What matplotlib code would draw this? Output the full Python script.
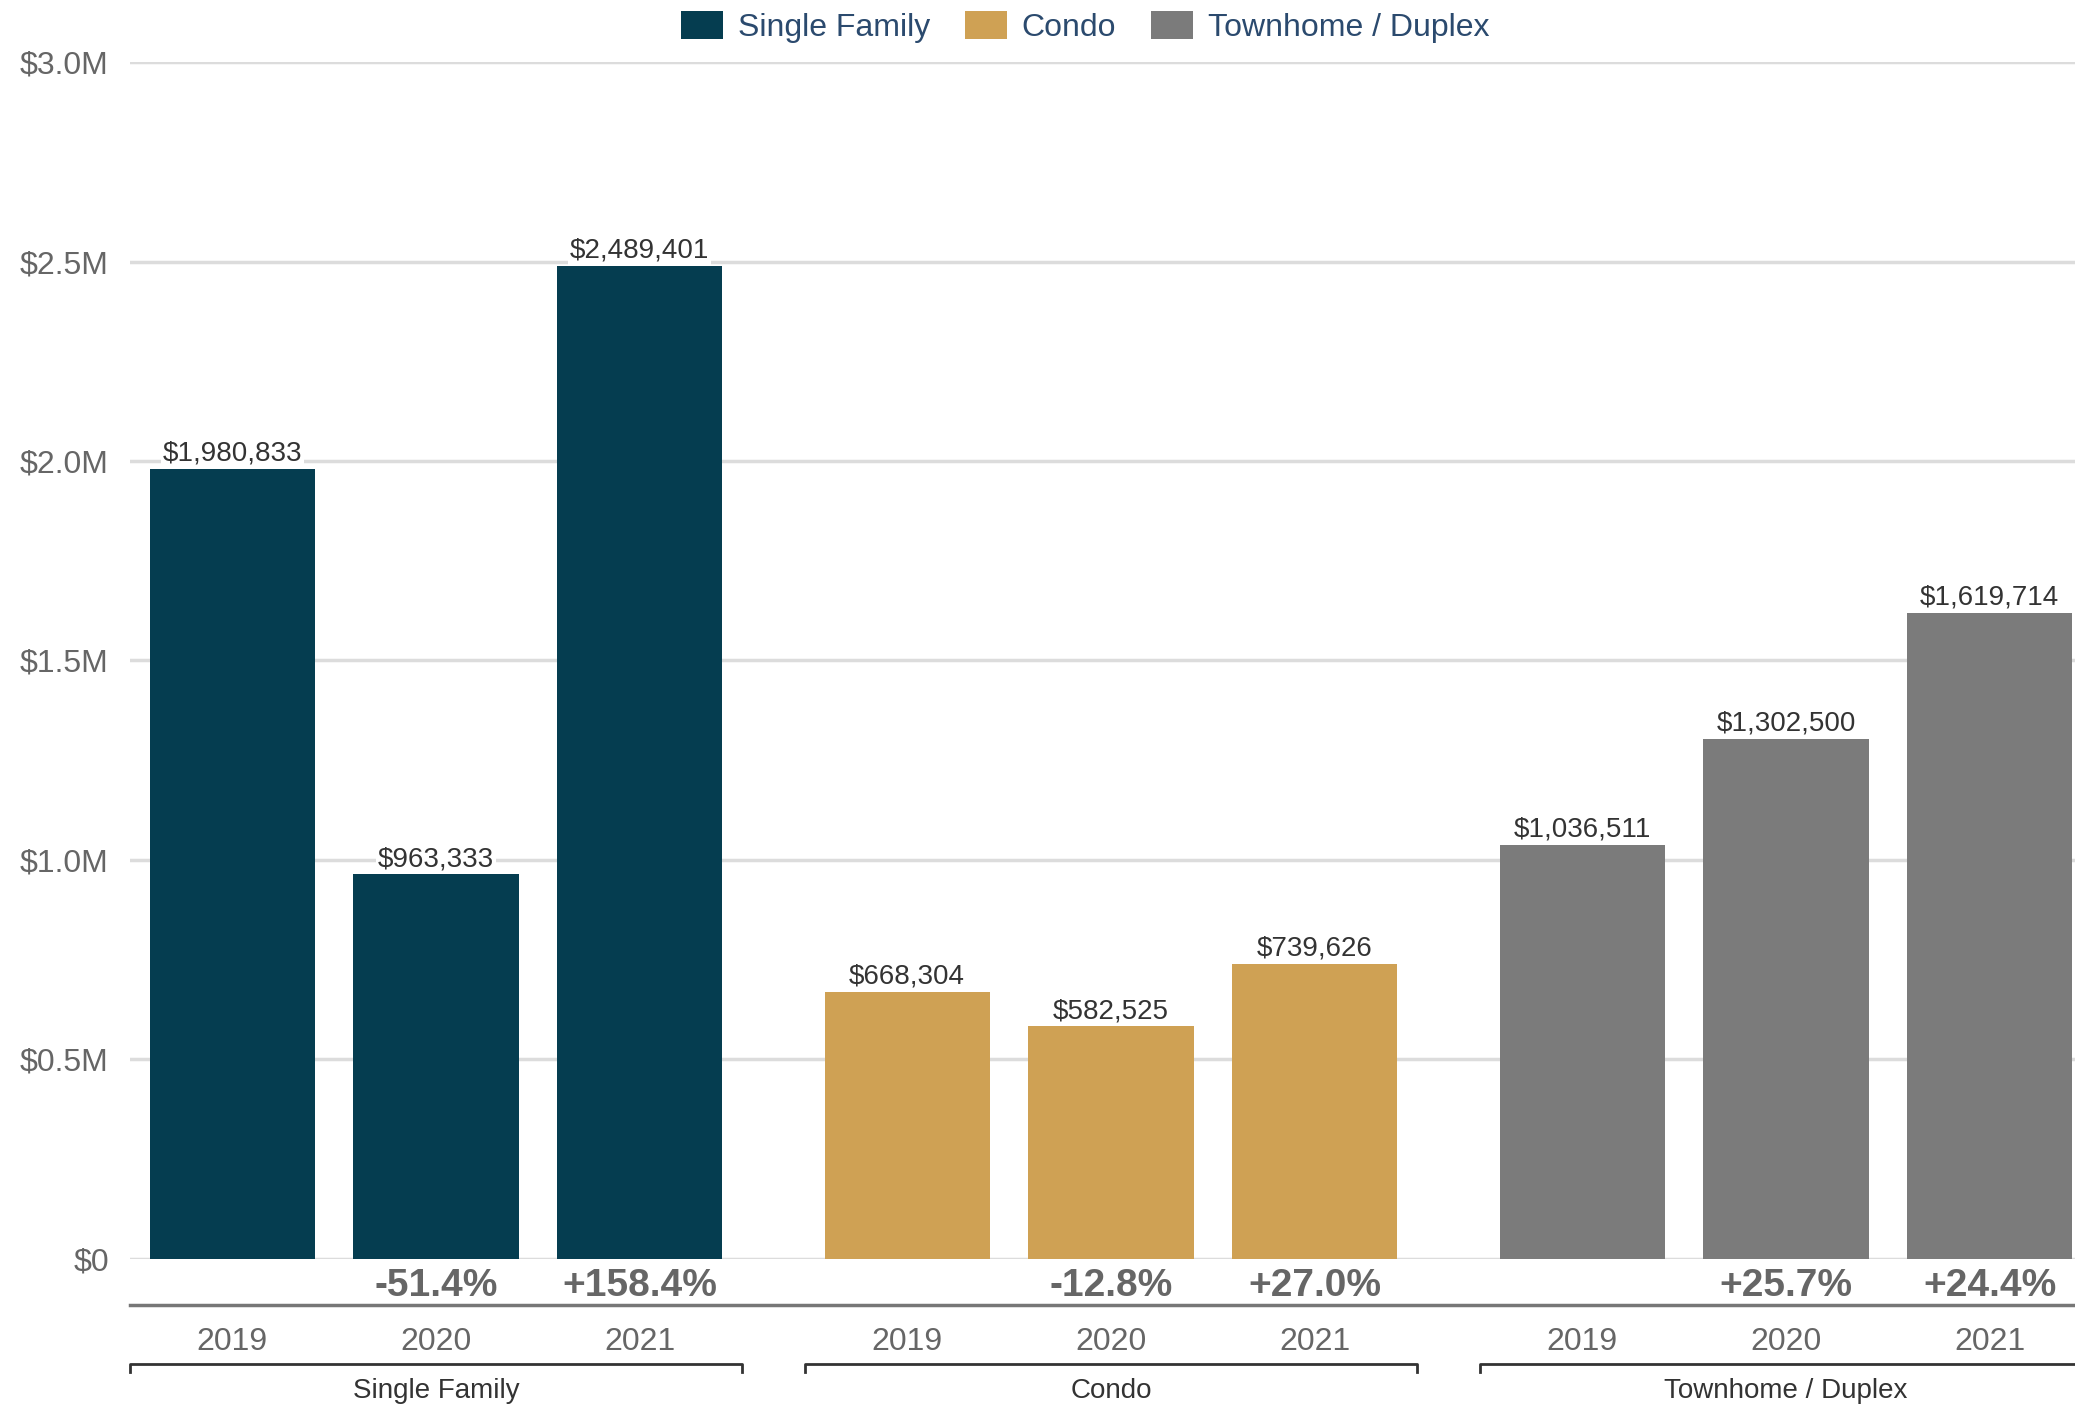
import matplotlib
matplotlib.use("Agg")
import matplotlib.pyplot as plt
import matplotlib.transforms as mtransforms
from matplotlib.patches import Patch

plt.rcParams['font.family'] = ['Liberation Sans', 'DejaVu Sans']

groups = ['Single Family', 'Condo', 'Townhome / Duplex']
years = ['2019', '2020', '2021']
single_family = [1980833, 963333, 2489401]
condo = [668304, 582525, 739626]
townhome = [1036511, 1302500, 1619714]
colors = ['#053d50', '#cfa154', '#7b7b7b']
y_ticks = [0, 500000, 1000000, 1500000, 2000000, 2500000, 3000000]
y_labels = ['$0', '$0.5M', '$1.0M', '$1.5M', '$2.0M', '$2.5M', '$3.0M']

series = [single_family, condo, townhome]
group_step = 3.312

fig = plt.figure(figsize=(20.75, 14.05), dpi=100)
ax = fig.add_axes([0.0625, 0.1042, 0.9375, 0.8515])

# grid
for t in y_ticks:
    ax.axhline(t, color='#dcdcdc', lw=2.5, zorder=0)

trans = mtransforms.blended_transform_factory(ax.transData, fig.transFigure)

for g, vals in enumerate(series):
    xs = [g * group_step + i for i in range(len(vals))]
    ax.bar(xs, vals, width=0.81, color=colors[g], zorder=2)
    for i, (x, v) in enumerate(zip(xs, vals)):
        ax.annotate(f"${v:,.0f}", (x, v), xytext=(0, 11), textcoords='offset points',
                    ha='center', va='center', fontsize=20, color='#333333', zorder=3,
                    bbox=dict(facecolor='white', edgecolor='none', pad=1.5))
        if i > 0:
            pct = (v / vals[i - 1] - 1) * 100
            ax.annotate(f"{pct:+.1f}%", (x, 0), xytext=(0, -19.5), textcoords='offset points',
                        ha='center', va='center', fontsize=28, fontweight='bold',
                        color='#666666', annotation_clip=False)
        ax.text(x, 0.0449, years[i], transform=trans, ha='center', va='center',
                fontsize=23, color='#666666')
    # group bracket
    x0, x1 = xs[0] - 0.5, xs[-1] + 0.5
    ax.plot([x0, x0, x1, x1], [0.0233, 0.0291, 0.0291, 0.0233], transform=trans,
            color='#333333', lw=2, clip_on=False)
    ax.text(xs[1], 0.0100, groups[g], transform=trans, ha='center', va='center',
            fontsize=20, color='#333333')

# dark base line under the percent row
fig.add_artist(plt.Line2D([0.0625, 1.0], [0.0713, 0.0713], color='#777777', lw=2.5))

ax.set_xlim(-0.503, 9.042)
ax.set_ylim(0, 3000000)
ax.set_yticks(y_ticks)
ax.set_yticklabels(y_labels, fontsize=23, color='#666666')
ax.tick_params(axis='y', length=0, pad=15)
ax.set_xticks([])
for s in ax.spines.values():
    s.set_visible(False)

handles = [Patch(facecolor=c, edgecolor='none') for c in colors]
leg = fig.legend(handles, groups, loc='center', bbox_to_anchor=(0.523, 0.981), ncol=3,
                 frameon=False, fontsize=23, handlelength=1.32, handleheight=1.0,
                 handletextpad=0.45, columnspacing=1.1)
for t in leg.get_texts():
    t.set_color('#2b4a6e')

fig.savefig('out.png', dpi=100)
